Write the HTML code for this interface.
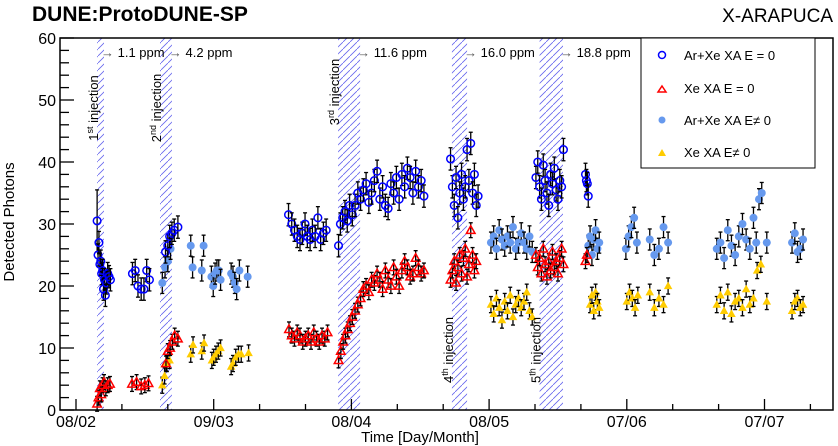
<!DOCTYPE html>
<html><head><meta charset="utf-8"><style>
body{margin:0;background:#fff}
svg{display:block;font-family:"Liberation Sans",sans-serif}
</style></head><body>
<svg id="c" width="838" height="446" viewBox="0 0 838 446">
<defs>
<pattern id="hatch" patternUnits="userSpaceOnUse" width="7" height="7">
<path d="M-1,8 L8,-1" stroke="#6666ee" stroke-width="0.8"/>
</pattern>
</defs>
<text x="32" y="21" font-size="21" font-weight="bold">DUNE:ProtoDUNE-SP</text>
<text x="833" y="22" font-size="19" text-anchor="end">X-ARAPUCA</text>
<text transform="translate(14,222) rotate(-90)" font-size="15" text-anchor="middle">Detected Photons</text>
<text x="420" y="442" font-size="15" text-anchor="middle">Time [Day/Month]</text>
<g id="bands"></g>
<g id="axes"></g>
<g id="marks"></g>
<g id="notes"></g>
<g>
<rect x="641" y="38" width="174" height="130" fill="#fff" stroke="#000" stroke-width="1"/>
<circle cx="662" cy="55" r="3.5" fill="none" stroke="#0000ff" stroke-width="1.5"/>
<text x="684" y="60" font-size="13">Ar+Xe XA E = 0</text>
<path d="M662,86 L666,92 L658,92 Z" fill="none" stroke="#ff0000" stroke-width="1.5"/>
<text x="684" y="93" font-size="13">Xe XA E = 0</text>
<circle cx="662" cy="120" r="3.5" fill="#6699ee"/>
<text x="684" y="125" font-size="13">Ar+Xe XA E≠ 0</text>
<path d="M662,149 L666,156 L658,156 Z" fill="#ffcc00"/>
<text x="684" y="157" font-size="13">Xe XA E≠ 0</text>
</g>
</svg>
<script>
const yTicks=[0,10,20,30,40,50,60];
const xTickDays=[0,30,60,90,120,150];
const xTickLabels=["08/02","09/03","08/04","08/05","07/06","07/07"];
const bandStart=[4.6,18.3,57.1,81.9,101.0];
const bandEnd=[6.1,20.9,61.9,85.2,106.1];
const bandLabels=["st","nd","rd","th","th"];
const ppmLabels=["1.1 ppm","4.2 ppm","11.6 ppm","16.0 ppm","18.8 ppm"];

const A_d=[4.6,4.8,5.0,5.2,5.4,5.6,5.8,6.0,6.2,6.4,6.6,6.9,7.2,7.5,
12.3,12.9,13.5,14.2,14.8,15.4,16.0,
19.5,20.0,20.4,20.9,21.4,22.2,
46.3,47.0,47.6,48.2,48.8,49.3,49.9,50.4,51.0,51.5,52.1,52.7,53.3,53.9,54.5,
57.2,57.6,58.1,58.6,59.1,59.6,60.2,60.8,61.4,62.0,62.6,63.2,63.8,64.4,65.0,65.6,66.2,66.8,67.4,68.0,68.6,69.2,69.8,70.4,71.0,71.6,72.2,72.8,73.4,74.0,74.6,75.2,75.8,
81.6,82.0,82.4,82.8,83.2,83.6,84.0,84.4,84.8,85.2,85.6,86.0,86.4,86.8,87.2,87.6,
100.2,100.6,101.0,101.4,101.8,102.2,102.6,103.0,103.4,103.8,104.2,104.6,105.0,105.4,105.8,106.2,
111.0,111.2,111.4,111.6];
const A_v=[30.5,25,27,23.5,24,22,22.5,19.5,21,18.5,20.5,22,21.5,21,
22,22.5,20,19.5,19.5,22.5,21,
25.5,26.5,28,28.5,29,29.5,
31.5,30,29,28,27.5,28.5,30,28,27.5,29,28,31,27.5,28.5,29,
26.5,30,31,32,30.5,33,31.5,33,35,34,35.5,36.5,33.5,35,37,38.5,34,36,33,32.5,36.5,35,37.5,34,38,36,39,37.5,35,38.5,36,37,34.5,
40.5,36,33,37.5,31,35,38,34,36,42,37,43,35,38,33,34.5,
37.5,40,36,34,39.5,37,35,33,38,36.5,39,35.5,34,37,36,42,
38,37,36.5,34.5];

const B_d=[4.6,4.9,5.2,5.5,5.8,6.1,6.5,6.9,7.4,12.2,13.2,14.2,15.0,15.8,19.6,20.0,20.5,21.0,21.5,22.2,
46.4,47.0,47.6,48.2,48.8,49.4,50.0,50.6,51.2,51.8,52.4,53.0,53.6,54.2,54.8,
57.2,57.7,58.2,58.7,59.2,59.7,60.2,60.8,61.4,62.0,62.6,63.2,63.8,64.4,65.0,65.6,66.2,66.8,67.4,68.0,68.6,69.2,69.8,70.4,71.0,71.6,72.2,72.8,73.4,74.0,74.6,75.2,75.8,
81.6,82.0,82.4,82.8,83.2,83.6,84.0,84.4,84.8,85.2,85.6,86.0,86.4,86.8,87.2,
100.2,100.6,101.0,101.4,101.8,102.2,102.6,103.0,103.4,103.8,104.2,104.6,105.0,105.4,105.8,106.2,
111.0,111.3];
const B_v=[1,2,3.5,2.5,4,4.5,3.5,4,4.2,4.2,4.5,3.8,4,4.3,7.5,9.5,10,11,12,11.5,
13,12,11.5,12.5,12,11,11.5,12,11,12.5,11.5,11,12,11.5,12.5,
8,9.5,11,12,13,14,15,16,17,18,19.5,20,19,21,20.5,22,21,19.5,22.5,21,20,23,21.5,20,22.5,24,23,21.5,22,24.5,23,22,22.5,
21,22.5,24,20.5,23,25,22,24.5,26,21.5,23.5,29,25,22.5,24,
25,23,24.5,22,26,23.5,21.5,24,22.5,25.5,23,24,22,24.5,26,23.5,
24,25];

const C_d=[18.8,19.4,20.0,20.6,25.0,25.4,27.4,27.8,29.5,29.9,30.3,30.7,31.1,31.5,33.8,34.2,34.6,35.0,35.6,37.4,
90.4,91.0,91.6,92.2,92.8,93.4,94.0,94.6,95.2,95.8,96.4,97.0,97.6,98.2,98.8,99.4,
111.6,112.0,112.4,112.8,113.2,113.6,114.0,
119.8,120.4,121.0,121.6,122.2,125.0,126.0,127.0,128.0,129.0,
139.6,140.4,141.2,142.0,142.8,143.6,144.4,145.2,146.0,146.8,147.6,148.2,148.8,149.4,150.5,
156.0,156.6,157.2,157.8,158.4];
const C_v=[20.5,23,24,26,26.5,23,22.5,26.5,21.5,20,22,22.5,22.5,21,22,21.5,20.5,19.5,22.5,21.5,
27,28,26,29,27.5,26.5,28,27,29.5,26,27,28.5,27,26,28,25.5,
26.5,28,25,27.5,29,26,27,
26,28,29.5,31,27,27.5,25,26,29.5,27,
26,27,24.5,29,26.5,25,28,30,27.5,26,31,27,34,35,27,
27,28.5,25.5,26,27.5];

const D_d=[18.8,19.3,19.8,20.4,25.0,25.5,27.4,27.9,29.6,30.0,30.5,31.0,31.5,33.8,34.2,34.8,35.4,36.0,37.6,
90.4,91.0,91.6,92.2,92.8,93.4,94.0,94.6,95.2,95.8,96.4,97.0,97.6,98.2,98.8,99.4,
112.0,112.4,112.8,113.2,113.6,114.0,
120.0,120.6,121.2,121.8,122.4,125.0,126.0,127.0,128.0,129.0,
139.6,140.4,141.2,142.0,142.8,143.6,144.4,145.2,146.0,146.8,147.6,148.4,149.2,150.5,
156.0,156.6,157.2,157.8,158.4];
const D_v=[4,5.5,7.5,8,9,10.5,9.5,10.8,8,8.5,9,9.5,10,7,7.5,8.5,9,9,9.2,
17,15.5,18,16.5,14.5,17.5,16,18.5,15,17,18,16.5,17.5,19,16,15,
17,18.5,16,19,17.5,16.5,
17.5,19,18,16.5,18.5,19,16.5,18,17,20,
17,18.5,16,19,15.5,17.5,18,16.5,19.5,17,18,22.5,23.5,17.5,
16,17.5,18,16.5,17];

const L=60,R=833,T=38,B=410;
const x=d=>76+4.59*d;
const y=v=>B-(B-T)*v/60;
const NS="http://www.w3.org/2000/svg";
function mk(tag,attrs,parent){const e=document.createElementNS(NS,tag);for(const k in attrs)e.setAttribute(k,attrs[k]);parent.appendChild(e);return e;}
const bands=document.getElementById('bands'),axes=document.getElementById('axes'),marks=document.getElementById('marks'),notes=document.getElementById('notes');

bandStart.forEach((s,i)=>{
  const r=mk('rect',{x:x(s),y:T,width:x(bandEnd[i])-x(s),height:B-T,fill:'url(#hatch)'},bands);
  
  
});
const f=mk('rect',{x:L,y:T,width:R-L,height:B-T,fill:'none',stroke:'#000','stroke-width':1.5},axes);


for(let v=0;v<=60;v+=2){const maj=v%10===0;mk('line',{x1:L,x2:L+(maj?14:9),y1:y(v),y2:y(v),stroke:'#000','stroke-width':1.3},axes);}
yTicks.forEach(v=>{const t=mk('text',{x:L-4,y:y(v)+6,'font-size':16,'text-anchor':'end'},axes);t.textContent=v;

});
for(let d=-30;d<=180;d+=10){const xx=x(d);if(xx<=L||xx>=R)continue;const maj=d%30===0;mk('line',{x1:xx,x2:xx,y1:B,y2:B-(maj?11:6),stroke:'#000','stroke-width':1.3},axes);}
xTickDays.forEach((d,i)=>{const t=mk('text',{x:x(d),y:B+17,'font-size':16,'text-anchor':'middle'},axes);t.textContent=xTickLabels[i];

});

const labY=[108,108,92,350,350];
bandStart.forEach((s,i)=>{
  const t=mk('text',{transform:`translate(${x(s)+1},${labY[i]}) rotate(-90)`,'font-size':13,'text-anchor':'middle'},notes);
  
  
  t.innerHTML=(i+1)+'<tspan font-size="9" dy="-5">'+bandLabels[i]+'</tspan><tspan dy="5"> injection</tspan>';
  const p=mk('text',{x:x(bandEnd[i])-3,y:57,'font-size':13},notes);
  
  
  p.innerHTML='<tspan fill="#555">→</tspan> '+ppmLabels[i];
});

function err(d,v,e){const xx=x(d);mk('line',{x1:xx,x2:xx,y1:y(v+e),y2:y(v-e),stroke:'#000','stroke-width':1.3},marks);
 mk('line',{x1:xx-2,x2:xx+2,y1:y(v+e),y2:y(v+e),stroke:'#000','stroke-width':1.3},marks);
 mk('line',{x1:xx-2,x2:xx+2,y1:y(v-e),y2:y(v-e),stroke:'#000','stroke-width':1.3},marks);}
function tri(cx,cy,s){return `M${cx},${cy-s} L${cx+s*0.95},${cy+s*0.7} L${cx-s*0.95},${cy+s*0.7} Z`;}
C_d.forEach((d,i)=>{err(d,C_v[i],1.7);const c=mk('circle',{cx:x(d),cy:y(C_v[i]),r:4,fill:'#6699ee'},marks);

});
D_d.forEach((d,i)=>{err(d,D_v[i],1.3);const c=mk('path',{d:tri(x(d),y(D_v[i]),4.5),fill:'#ffcc00'},marks);

});
B_d.forEach((d,i)=>{err(d,B_v[i],1.2);const c=mk('path',{d:tri(x(d),y(B_v[i]),4.5),fill:'none',stroke:'#ff0000','stroke-width':1.5},marks);

});
A_d.forEach((d,i)=>{err(d,A_v[i],i===0?5:1.8);const c=mk('circle',{cx:x(d),cy:y(A_v[i]),r:3.8,fill:'none',stroke:'#0000ff','stroke-width':1.5},marks);

});
</script>
</body></html>
